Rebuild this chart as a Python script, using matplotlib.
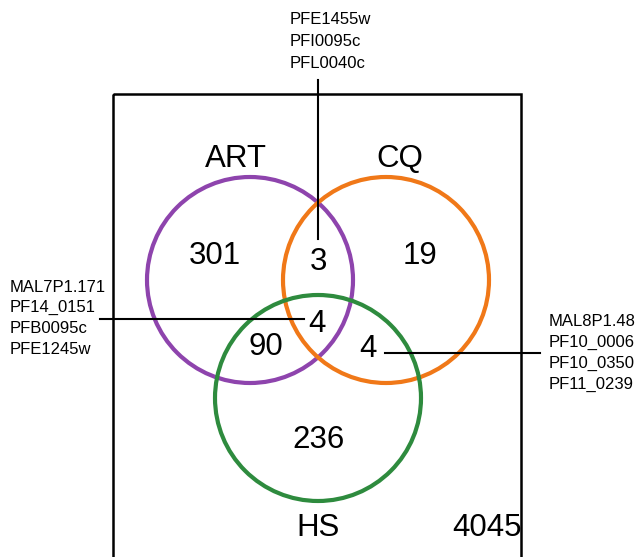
import matplotlib
matplotlib.use("Agg")
import matplotlib.pyplot as plt
from matplotlib.patches import Circle, Rectangle

plt.rcParams['font.family'] = ['Liberation Sans', 'DejaVu Sans']

# Data
set_names = ["ART", "CQ", "HS"]
set_colors = ["#8E44AD", "#F07818", "#2E8B3E"]
region_labels = ["ART only", "ART&CQ", "CQ only", "ART&CQ&HS", "ART&HS", "CQ&HS", "HS only", "none"]
region_counts = [301, 3, 19, 4, 90, 4, 236, 4045]
annot_top = ["PFE1455w", "PFI0095c", "PFL0040c"]
annot_left = ["MAL7P1.171", "PF14_0151", "PFB0095c", "PFE1245w"]
annot_right = ["MAL8P1.48", "PF10_0006", "PF10_0350", "PF11_0239"]

fig = plt.figure(figsize=(6.37, 5.57), dpi=100)
ax = fig.add_axes([0, 0, 1, 1])
ax.set_xlim(0, 637)
ax.set_ylim(557, 0)
ax.axis('off')

# layout (pixel space)
centers = [(250, 280), (386, 280), (318, 398)]
radius = 103
ax.add_patch(Rectangle((113, 94), 408, 500, fill=False, lw=1.8, ec='black'))
for (cx, cy), c in zip(centers, set_colors):
    ax.add_patch(Circle((cx, cy), radius, fill=False, lw=3, ec=c))

name_pos = [(236, 159), (400, 159), (318, 528)]
for n, (x, y) in zip(set_names, name_pos):
    ax.text(x, y, n, fontsize=22.5, ha='center', va='center')

count_pos = [(215, 256), (318, 262), (420, 256), (317, 324), (266, 347), (368, 349), (318, 440), (487, 528)]
for v, (x, y) in zip(region_counts, count_pos):
    ax.text(x, y, str(v), fontsize=22.5, ha='center', va='center')

# leader lines
ax.plot([318, 318], [80, 239], color='black', lw=1.5)
ax.plot([100, 304], [319, 319], color='black', lw=1.5)
ax.plot([385, 540], [353, 353], color='black', lw=1.5)

for i, t in enumerate(annot_top):
    ax.text(290, 19 + i * 22, t, fontsize=12, ha='left', va='center')
for i, t in enumerate(annot_left):
    ax.text(10, 287 + i * 20.7, t, fontsize=12, ha='left', va='center')
for i, t in enumerate(annot_right):
    ax.text(549, 321 + i * 21, t, fontsize=12, ha='left', va='center')

fig.savefig("out.png", dpi=100)
